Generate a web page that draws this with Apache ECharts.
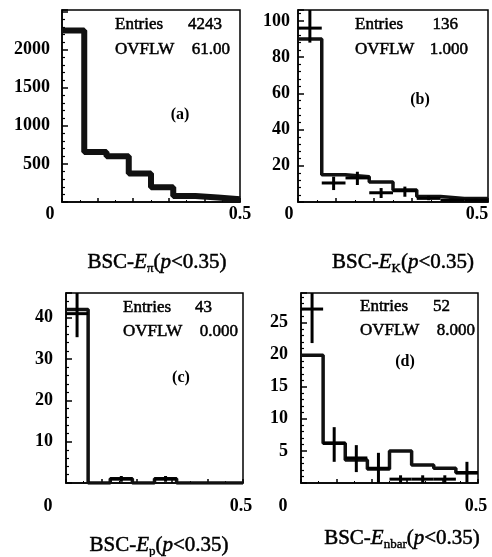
<!DOCTYPE html>
<html><head><meta charset="utf-8">
<script src="https://cdn.jsdelivr.net/npm/echarts@6/dist/echarts.min.js"></script>
<style>html,body{margin:0;padding:0;background:#fff}#c{width:492px;height:557px}</style>
</head><body><div id="c"></div>
<script>
// ---- data ----
const binEdges = [0, 0.0625, 0.125, 0.1875, 0.25, 0.3125, 0.375, 0.4375, 0.5];
const xTickLabels = [0, 0.5];

const histA = [2250, 655, 600, 375, 195, 78, 60, 35];
const histB = [90, 15, 14, 11, 6.6, 3, 2, 2];
const histC = [42, 0, 1, 0, 1, 0, 0, 0];
const histD = [19.9, 6.2, 3.6, 2.2, 5.0, 2.8, 2.3, 1.6];

const ptsB = [96, 10.5, 13.3, 5.1, 6.2, 2, 1, 1];
const loB  = [88, 6.6, 9.4, 2.2, 2.9, 1, 0.4, 0.4];
const hiB  = [115, 14, 16.7, 7.7, 8.5, 3.4, 1.8, 1.8];

const ptsC = [41, null, 1, null, 1, null, null, null];
const loC  = [35.3, null, 0.3, null, 0.3, null, null, null];
const hiC  = [50, null, 1.7, null, 1.7, null, null, null];

const ptsD = [27.1, 6.2, 3.9, 2.3, 0.6, 0.6, 0.6, 1.6];
const loD  = [21.8, 3.3, 1.7, 0, 0, 0, 0, 0.1];
const hiD  = [32, 8.7, 5.9, 4.7, 1.2, 1.2, 1.2, 3.3];

const yTicksA = [500, 1000, 1500, 2000];
const yTicksB = [20, 40, 60, 80, 100];
const yTicksC = [10, 20, 30, 40];
const yTicksD = [5, 10, 15, 20, 25];

const entries = ['4243', '136', '43', '52'];
const ovflw = ['61.00', '1.000', '0.000', '8.000'];
const panelTags = ['(a)', '(b)', '(c)', '(d)'];
const subs = ['π', 'K', 'p', 'nbar'];

// ---- layout ----
const FONT = '"Liberation Serif", "DejaVu Serif", serif';
const panels = [
  {grid:{left:62, top:10, width:178, height:192}, ymax:2520, yint:500, ticks:yTicksA, hist:histA, lw:6, ymargin:12, xmargin:3, sh0:-12, sh5:0,
   txt:{x:115, y:25, xr1:222, xr2:230, tx:180, ty:115}, title:{x:157, y:262}},
  {grid:{left:298, top:10, width:190, height:192}, ymax:106, yint:20, ticks:yTicksB, hist:histB, lw:3.5, ymargin:8, xmargin:3, sh0:-9, sh5:-11,
   pts:[ptsB, loB, hiB], txt:{x:355, y:25, xr1:458, xr2:468, tx:420, ty:100}, title:{x:403, y:262}},
  {grid:{left:66, top:293, width:177, height:190}, ymax:46, yint:10, ticks:yTicksC, hist:histC, lw:3.5, ymargin:13, xmargin:14, sh0:-18, sh5:-2,
   pts:[ptsC, loC, hiC], txt:{x:123, y:308, xr1:212, xr2:238, tx:181, ty:378}, title:{x:159, y:545}},
  {grid:{left:301, top:293, width:177, height:190}, ymax:29.6, yint:5, ticks:yTicksD, hist:histD, lw:3.5, ymargin:13, xmargin:14, sh0:-18, sh5:-2,
   pts:[ptsD, loD, hiD], txt:{x:360, y:307, xr1:450, xr2:475, tx:405, ty:362}, title:{x:402, y:538}}
];

const grids = [], xAxes = [], yAxes = [], series = [], graphics = [];

function errRender(params, api) {
  const x0 = api.value(0), x1 = api.value(1), y = api.value(2), lo = api.value(3), hi = api.value(4);
  const xm = (x0 + x1) / 2;
  const pL = api.coord([x0, y]), pR = api.coord([x1, y]);
  const pT = api.coord([xm, hi]), pB = api.coord([xm, lo]);
  return {type:'group', children:[
    {type:'line', shape:{x1:pL[0], y1:pL[1], x2:pR[0], y2:pR[1]}, style:{stroke:'#000', lineWidth:3}},
    {type:'line', shape:{x1:pT[0], y1:pT[1], x2:pB[0], y2:pB[1]}, style:{stroke:'#000', lineWidth:3}}
  ]};
}

panels.forEach((p, i) => {
  grids.push(Object.assign({show:true, borderColor:'#000', borderWidth:1.5, backgroundColor:'#fff'}, p.grid));
  const pad = s => s < 0 ? [0, -2 * s, 0, 0] : [0, 0, 0, 2 * s];
  xAxes.push({type:'value', gridIndex:i, min:0, max:0.5, interval:0.1,
    axisLine:{show:true, lineStyle:{color:'#000', width:1.5}},
    axisTick:{show:true, inside:true, length:4, lineStyle:{color:'#000', width:1.5}},
    minorTick:{show:true, splitNumber:2, length:2, lineStyle:{color:'#000', width:1}},
    splitLine:{show:false},
    axisLabel:{margin:p.xmargin, showMinLabel:true, showMaxLabel:true,
      formatter: v => {
        if (Math.abs(v - xTickLabels[0]) < 1e-9) return '{l|0}';
        if (Math.abs(v - xTickLabels[1]) < 1e-9) return '{r|0.5}';
        return '';
      },
      rich:{
        l:{fontFamily:FONT, fontWeight:'bold', fontSize:18, color:'#000', padding:pad(p.sh0)},
        r:{fontFamily:FONT, fontWeight:'bold', fontSize:18, color:'#000', padding:pad(p.sh5)}
      }}
  });
  yAxes.push({type:'value', gridIndex:i, min:0, max:p.ymax, interval:p.yint,
    axisLine:{show:true, lineStyle:{color:'#000', width:1.5}},
    axisTick:{show:true, inside:true, length:6, lineStyle:{color:'#000', width:1.5}},
    minorTick:{show:true, splitNumber:5, length:3, lineStyle:{color:'#000', width:1.2}},
    splitLine:{show:false},
    axisLabel:{margin:p.ymargin, fontFamily:FONT, fontWeight:'bold', fontSize:18, color:'#000',
      formatter: v => p.ticks.some(t => Math.abs(t - v) < 1e-9) ? String(v) : ''}
  });
  const hdata = p.hist.map((v, k) => [binEdges[k], v]);
  hdata.push([binEdges[binEdges.length - 1], p.hist[p.hist.length - 1]]);
  series.push({type:'line', xAxisIndex:i, yAxisIndex:i, step:'end', showSymbol:false, symbol:'none',
    data:hdata, lineStyle:{color:'#111', width:p.lw}, clip:true, animation:false, z:3});
  if (p.pts) {
    const [v, lo, hi] = p.pts;
    const d = [];
    v.forEach((val, k) => { if (val !== null) d.push([binEdges[k], binEdges[k + 1], val, lo[k], hi[k]]); });
    series.push({type:'custom', xAxisIndex:i, yAxisIndex:i, renderItem:errRender, data:d, clip:true,
      encode:{x:[0, 1], y:[2, 3, 4]}, animation:false, z:4});
  }
  const t = p.txt;
  const base = {fontFamily:FONT, fontSize:17, fill:'#000', stroke:'#000', lineWidth:0.5,
    verticalAlign:'middle', textVerticalAlign:'middle'};
  graphics.push({type:'text', x:t.x, y:t.y, z:10, style:Object.assign({}, base, {text:'Entries', align:'left', textAlign:'left'})});
  graphics.push({type:'text', x:t.xr1, y:t.y, z:10, style:Object.assign({}, base, {text:entries[i], align:'right', textAlign:'right'})});
  graphics.push({type:'text', x:t.x, y:t.y + (i < 2 ? 25 : 24), z:10, style:Object.assign({}, base, {text:'OVFLW', align:'left', textAlign:'left'})});
  graphics.push({type:'text', x:t.xr2, y:t.y + (i < 2 ? 25 : 24), z:10, style:Object.assign({}, base, {text:ovflw[i], align:'right', textAlign:'right'})});
  graphics.push({type:'text', x:t.tx, y:t.ty, z:10, style:Object.assign({}, base, {text:panelTags[i], fontWeight:'bold', fontSize:16, lineWidth:0, align:'center', textAlign:'center'})});
  graphics.push({type:'text', x:p.title.x, y:p.title.y, z:10, style:{
    text:'{n|BSC-}{i|E}{s|' + subs[i] + '}{n|(}{i|p}{n|<0.35)}', align:'center', textAlign:'center',
    verticalAlign:'middle', textVerticalAlign:'middle',
    rich:{
      n:{fontFamily:FONT, fontSize:21, fill:'#000', lineHeight:26, stroke:'#000', lineWidth:0.5},
      i:{fontFamily:FONT, fontSize:21, fontStyle:'italic', fill:'#000', lineHeight:26, stroke:'#000', lineWidth:0.5},
      s:{fontFamily:FONT, fontSize:13, fill:'#000', lineHeight:12, verticalAlign:'bottom', stroke:'#000', lineWidth:0.4}
    }}});
});

const chart = echarts.init(document.getElementById('c'), null, {renderer:'canvas'});
chart.setOption({animation:false, backgroundColor:'#fff', grid:grids, xAxis:xAxes, yAxis:yAxes, series:series, graphic:graphics});
</script></body></html>
